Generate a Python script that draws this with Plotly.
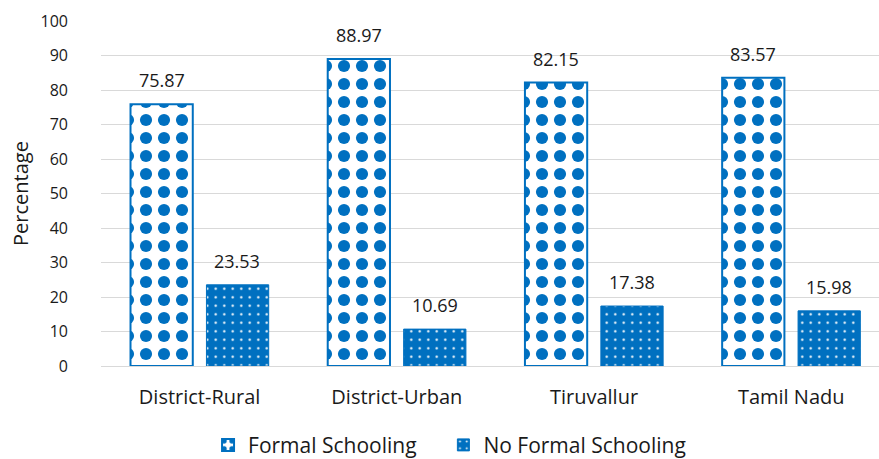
import plotly.graph_objects as go

categories = ["District-Rural", "District-Urban", "Tiruvallur", "Tamil Nadu"]
formal = [75.87, 88.97, 82.15, 83.57]
no_formal = [23.53, 10.69, 17.38, 15.98]
y_ticks = [0, 10, 20, 30, 40, 50, 60, 70, 80, 90, 100]

BLUE = "#0070C0"
FONT = "Open Sans"
INK = "#1a1a1a"
pos = list(range(len(categories)))
PAD = "\u00a0" * 4

fig = go.Figure()
fig.add_trace(go.Bar(
    x=pos, y=formal, name="Formal Schooling" + PAD,
    marker=dict(color="white", line=dict(color=BLUE, width=2),
                pattern=dict(shape=".", fgcolor=BLUE, bgcolor="white",
                             size=18, solidity=0.36, fillmode="replace")),
))
fig.add_trace(go.Bar(
    x=pos, y=no_formal, name="No Formal Schooling",
    marker=dict(color=BLUE, line=dict(color=BLUE, width=1),
                pattern=dict(shape=".", fgcolor="white", bgcolor=BLUE,
                             size=8.5, solidity=0.06, fillmode="replace")),
))

# value labels above each bar
offset = 0.192
for i, (a, b) in enumerate(zip(formal, no_formal)):
    for xv, yv in ((i - offset, a), (i + offset, b)):
        fig.add_annotation(x=xv, y=yv, text=f"{yv:.2f}", showarrow=False,
                           yanchor="bottom", yshift=10,
                           font=dict(family=FONT, size=18, color=INK))

fig.update_layout(
    width=879, height=459,
    margin=dict(l=101, r=0, t=21, b=93, autoexpand=False),
    paper_bgcolor="white", plot_bgcolor="white",
    barmode="group", bargap=0.23, bargroupgap=0.18,
    font=dict(family=FONT, color=INK),
    showlegend=True,
    legend=dict(orientation="h", x=0.448, xanchor="center",
                yref="container", y=0.03, yanchor="middle",
                font=dict(family=FONT, size=21, color=INK),
                itemwidth=30, traceorder="normal"),
    xaxis=dict(range=[-0.5, 3.445], tickvals=pos, ticktext=categories,
               tickfont=dict(family=FONT, size=20, color=INK),
               ticklabelstandoff=17,
               showgrid=False, zeroline=False, ticks="", showline=False),
    yaxis=dict(range=[0, 100], tickvals=y_ticks,
               tickfont=dict(family=FONT, size=16, color=INK),
               ticklabelstandoff=32,
               gridcolor="#D9D9D9", gridwidth=1, zeroline=True,
               zerolinecolor="#D9D9D9", zerolinewidth=1, ticks="",
               title=dict(text="Percentage", standoff=6,
                          font=dict(family=FONT, size=20, color=INK))),
)

fig.write_html("out.html")
